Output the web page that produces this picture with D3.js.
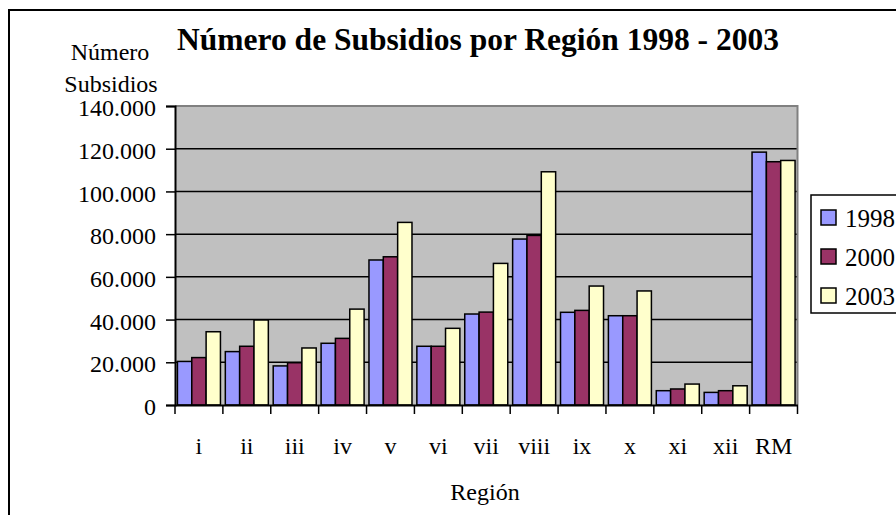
<!DOCTYPE html>
<html>
<head>
<meta charset="utf-8">
<script src="https://cdn.jsdelivr.net/npm/d3@7"></script>
<style>
  body { margin: 0; background: #fff; }
  text { font-family: "Liberation Serif", "Times New Roman", serif; fill: #000; }
</style>
</head>
<body>
<svg id="chart" width="896" height="515"></svg>
<script>
// datos
const regiones = ["i", "ii", "iii", "iv", "v", "vi", "vii", "viii", "ix", "x", "xi", "xii", "RM"];
const anios = ["1998", "2000", "2003"];
const s1998 = [20400, 25000, 18300, 28900, 67900, 27500, 42600, 77700, 43400, 41800, 6700, 5900, 118400];
const s2000 = [22200, 27500, 19800, 31200, 69400, 27500, 43500, 79400, 44300, 41800, 7500, 6700, 113900];
const s2003 = [34300, 39800, 26700, 44900, 85500, 35900, 66300, 109200, 55700, 53400, 9800, 9000, 114500];
const yTicks = [0, 20000, 40000, 60000, 80000, 100000, 120000, 140000];
const colores = ["#9999ff", "#993366", "#ffffcc"];

const series = [s1998, s2000, s2003];
const data = regiones.map((r, i) => ({ region: r, values: series.map((s, j) => ({ anio: anios[j], v: s[i] })) }));

const svg = d3.select("#chart");

// marco exterior
svg.append("rect")
  .attr("x", 9).attr("y", 10).attr("width", 1000).attr("height", 1000)
  .attr("fill", "none").attr("stroke", "#000").attr("stroke-width", 2);

const pLeft = 175, pRight = 797.5, pTop = 106, pBottom = 405;

const x = d3.scaleBand().domain(regiones).range([pLeft, pRight]).padding(0);
const xs = d3.scaleBand().domain(anios).range([0, x.bandwidth()]).paddingInner(0).paddingOuter(0.17);
const y = d3.scaleLinear().domain([0, 140000]).range([pBottom, pTop]);

const fmt = d3.formatLocale({ decimal: ",", thousands: ".", grouping: [3], currency: ["$", ""] }).format(",");

// fondo del área de trazado
svg.append("rect")
  .attr("x", pLeft).attr("y", pTop).attr("width", pRight - pLeft).attr("height", pBottom - pTop)
  .attr("fill", "#c0c0c0");

// líneas de división
svg.append("g").selectAll("line")
  .data(yTicks.filter(d => d > 0 && d < 140000))
  .enter().append("line")
  .attr("x1", pLeft).attr("x2", pRight)
  .attr("y1", d => y(d)).attr("y2", d => y(d))
  .attr("stroke", "#000").attr("stroke-width", 1.5);

// borde gris superior y derecho
svg.append("path")
  .attr("d", `M${pLeft},${pTop}H${pRight}V${pBottom}`)
  .attr("fill", "none").attr("stroke", "#808080").attr("stroke-width", 2);

// barras
const grupo = svg.append("g").selectAll("g")
  .data(data)
  .enter().append("g")
  .attr("transform", d => `translate(${x(d.region)},0)`);

grupo.selectAll("rect")
  .data(d => d.values)
  .enter().append("rect")
  .attr("x", d => xs(d.anio))
  .attr("y", d => y(d.v))
  .attr("width", xs.bandwidth())
  .attr("height", d => y(0) - y(d.v))
  .attr("fill", (d, i) => colores[i])
  .attr("stroke", "#000").attr("stroke-width", 1.5);

// eje Y
const yAxis = svg.append("g")
  .attr("transform", `translate(${pLeft},0)`)
  .call(d3.axisLeft(y).tickValues(yTicks).tickFormat(fmt).tickSize(9).tickPadding(10));
yAxis.selectAll("text").style("font-size", "24px").attr("dy", "0.4em");

// eje X
const xAxis = svg.append("g")
  .attr("transform", `translate(0,${pBottom})`)
  .call(d3.axisBottom(x).tickSize(0).tickPadding(32));
xAxis.selectAll("text").style("font-size", "24px");
xAxis.append("g").selectAll("line")
  .data(d3.range(regiones.length + 1))
  .enter().append("line")
  .attr("x1", i => pLeft + i * x.step()).attr("x2", i => pLeft + i * x.step())
  .attr("y1", 0).attr("y2", 9)
  .attr("stroke", "#000").attr("stroke-width", 1.5);

svg.selectAll(".domain").attr("stroke", "#000").attr("stroke-width", 2);
svg.selectAll(".tick line").attr("stroke", "#000").attr("stroke-width", 1.5);

// títulos
svg.append("text")
  .attr("x", 478).attr("y", 50)
  .attr("text-anchor", "middle")
  .style("font-size", "31.5px").style("font-weight", "bold")
  .text("Número de Subsidios por Región 1998 - 2003");

svg.append("text")
  .attr("x", 110).attr("y", 60)
  .attr("text-anchor", "middle").style("font-size", "24px")
  .text("Número");
svg.append("text")
  .attr("x", 111).attr("y", 92)
  .attr("text-anchor", "middle").style("font-size", "24px")
  .text("Subsidios");

svg.append("text")
  .attr("x", 485).attr("y", 500)
  .attr("text-anchor", "middle").style("font-size", "24px")
  .text("Región");

// leyenda
const ley = svg.append("g");
ley.append("rect")
  .attr("x", 811).attr("y", 195).attr("width", 200).attr("height", 118)
  .attr("fill", "#fff").attr("stroke", "#000").attr("stroke-width", 1.5);
const item = ley.selectAll("g.item")
  .data(anios)
  .enter().append("g")
  .attr("class", "item")
  .attr("transform", (d, i) => `translate(821,${217.5 + i * 39})`);
item.append("rect")
  .attr("x", 0).attr("y", -7.5).attr("width", 15).attr("height", 15)
  .attr("fill", (d, i) => colores[i])
  .attr("stroke", "#000").attr("stroke-width", 1.5);
item.append("text")
  .attr("x", 24).attr("dy", "0.36em")
  .style("font-size", "25px")
  .text(d => d);
</script>
</body>
</html>
